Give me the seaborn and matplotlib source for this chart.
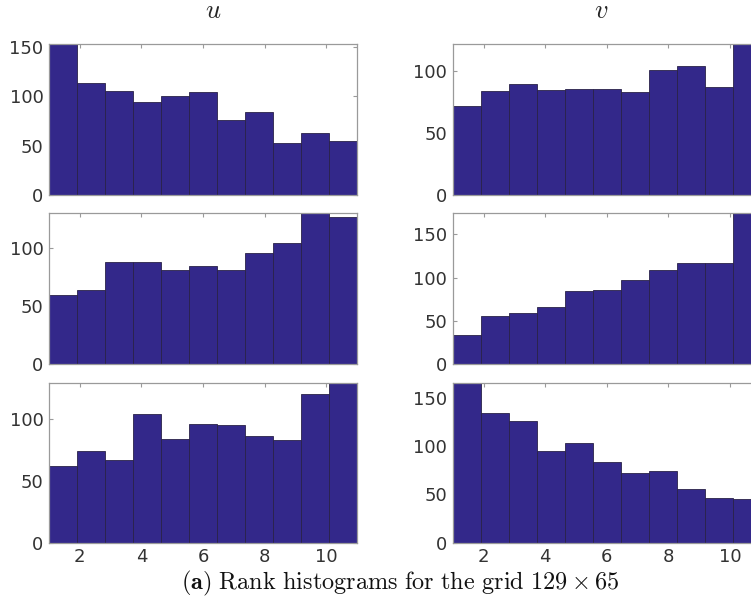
import numpy as np
import pandas as pd
import matplotlib
matplotlib.use("Agg")
import matplotlib.pyplot as plt
import seaborn as sns

# ---- data ----
ranks = list(range(1, 12))
u_row1 = [153, 113, 105, 94, 100, 104, 76, 84, 53, 63, 55]
v_row1 = [72, 84, 90, 85, 86, 86, 83, 101, 104, 87, 122]
u_row2 = [59, 64, 88, 88, 81, 84, 81, 95, 104, 130, 126]
v_row2 = [34, 56, 59, 66, 84, 86, 97, 109, 117, 117, 175]
u_row3 = [62, 74, 67, 104, 84, 96, 95, 86, 83, 120, 129]
v_row3 = [165, 134, 126, 95, 103, 84, 72, 74, 56, 46, 45]
col_titles = ["$u$", "$v$"]
xticks = [2, 4, 6, 8, 10]
yticks_sets = [
    [[0, 50, 100, 150], [0, 50, 100]],
    [[0, 50, 100], [0, 50, 100, 150]],
    [[0, 50, 100], [0, 50, 100, 150]],
]
caption = r"$\mathbf{(a)}\ \mathrm{Rank\ histograms\ for\ the\ grid}\ 129\times65$"

sns.set_style("ticks")
plt.rcParams["font.family"] = ["DejaVu Sans"]
plt.rcParams["mathtext.fontset"] = "cm"

W, H = 751, 603
fig = plt.figure(figsize=(W / 100, H / 100), dpi=100)

col_x = [49, 452.7]
ax_w = 308
rows_px = [(44, 195), (212.7, 364), (383.3, 542.7)]

data = [[u_row1, v_row1], [u_row2, v_row2], [u_row3, v_row3]]
bar_color = "#33288a"
frame_color = "#9a9a9a"
label_color = "#333333"

for r, (top, bot) in enumerate(rows_px):
    for c in range(2):
        counts = data[r][c]
        ax = fig.add_axes([col_x[c] / W, (H - bot) / H, ax_w / W, (bot - top) / H])
        df = pd.DataFrame({"rank": ranks, "count": counts})
        sns.histplot(data=df, x="rank", weights="count", bins=11, binrange=(1, 11),
                     color=bar_color, alpha=1, edgecolor="#2a2248", linewidth=0.6, ax=ax)
        ax.set_xlim(1, 11)
        ax.set_ylim(0, max(counts))
        ax.set_yticks(yticks_sets[r][c])
        ax.set_xticks(xticks)
        ax.set_xlabel("")
        ax.set_ylabel("")
        ax.tick_params(direction="in", length=3, width=0.8, color=frame_color,
                       labelsize=13, labelcolor=label_color, top=True, right=True, pad=4)
        if r < 2:
            ax.tick_params(labelbottom=False)
        for s in ax.spines.values():
            s.set_color(frame_color)
            s.set_linewidth(0.9)
            s.set_visible(True)

fig.text(213 / W, 1 - 18.5 / H, col_titles[0], ha="center", va="baseline", fontsize=19)
fig.text(601 / W, 1 - 18.5 / H, col_titles[1], ha="center", va="baseline", fontsize=19)
fig.text(400 / W, 1 - 589 / H, caption, ha="center", va="baseline", fontsize=17.5, color="#111111")

fig.savefig("out.png", dpi=100)
